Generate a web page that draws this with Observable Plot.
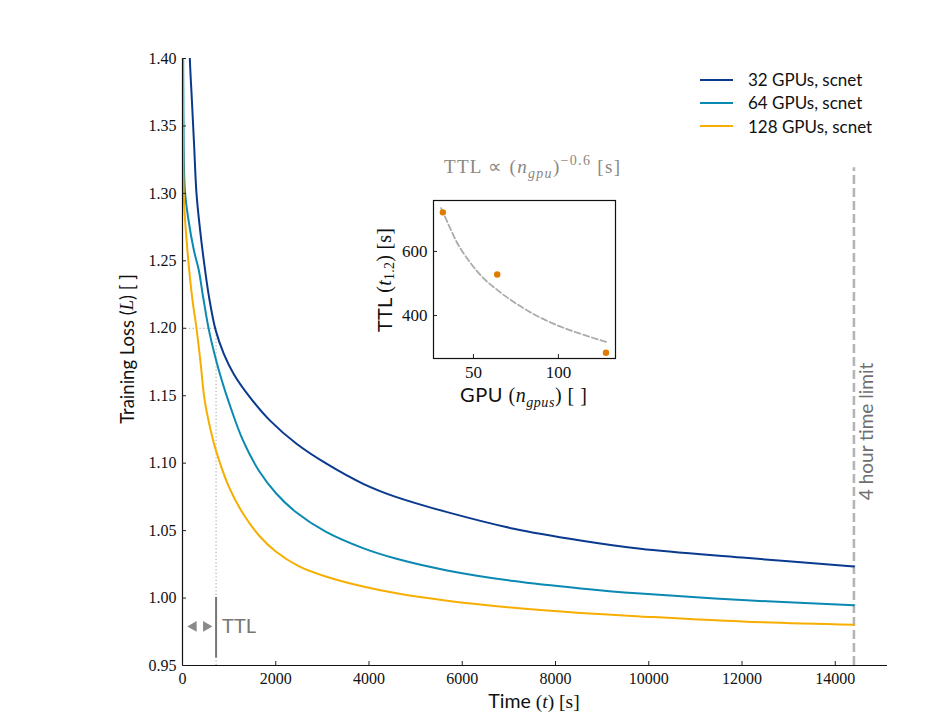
<!DOCTYPE html>
<html><head><meta charset="utf-8">
<script src="https://cdn.jsdelivr.net/npm/d3@7"></script>
<script src="https://cdn.jsdelivr.net/npm/@observablehq/plot@0.6"></script>
<style>
body{margin:0;background:#fff;}
#wrap{position:relative;width:943px;height:712px;overflow:hidden;background:#fff;}
#inset{position:absolute;left:360px;top:140px;}
#legend{position:absolute;left:700px;top:68px;font-family:Lato,sans-serif;font-size:17px;color:#111;}
#legend .row{display:flex;align-items:center;height:23.3px;}
#legend .sw{width:33px;height:2px;margin-right:15px;}
</style></head><body><div id="wrap"><div id="inset"></div><div id="legend"></div></div>
<script>
// ---- data ----
const seriesNames = ["32 GPUs, scnet", "64 GPUs, scnet", "128 GPUs, scnet"];
const seriesColors = ["#0a3a8e", "#0a89b2", "#f7ae00"];

const t32 = [0, 100, 157, 200, 250, 300, 380, 458, 565, 708, 886, 1101, 1444, 1873, 2445, 3088, 3875, 4590, 5676, 7106, 8536, 9822, 12000, 14400];
const L32 = [1.62, 1.47, 1.40, 1.37, 1.335, 1.300, 1.272, 1.250, 1.224, 1.199, 1.181, 1.166, 1.149, 1.1317, 1.1144, 1.0996, 1.0847, 1.0748, 1.0637, 1.0514, 1.0427, 1.0365, 1.0300, 1.0234];

const t64 = [0, 20, 50, 125, 243, 350, 443, 565, 708, 850, 1000, 1290, 1650, 2010, 2430, 3070, 3870, 4590, 5676, 7106, 8536, 9822, 12000, 14400];
const L64 = [1.55, 1.36, 1.303, 1.281, 1.258, 1.243, 1.223, 1.199, 1.178, 1.1605, 1.1445, 1.1174, 1.0938, 1.0775, 1.0638, 1.0492, 1.0370, 1.0291, 1.0205, 1.0126, 1.0071, 1.0033, 0.9985, 0.9947];

const t128 = [0, 10, 29, 100, 208, 300, 386, 470, 600, 730, 1000, 1300, 1650, 2000, 2500, 3088, 3875, 4590, 5676, 7106, 8536, 9822, 12000, 14400];
const L128 = [1.50, 1.37, 1.297, 1.260, 1.2225, 1.200, 1.175, 1.148, 1.125, 1.108, 1.082, 1.0625, 1.046, 1.0345, 1.0235, 1.0158, 1.0085, 1.0035, 0.9980, 0.9928, 0.9890, 0.9864, 0.9826, 0.9802];

const xTicks = [0, 2000, 4000, 6000, 8000, 10000, 12000, 14000];
const yTicks = [0.95, 1.00, 1.05, 1.10, 1.15, 1.20, 1.25, 1.30, 1.35, 1.40];
const timeLimit = 14400;
const ttlThreshold = 1.20;
const ttl32 = 720;

// inset
const gpuCounts = [32, 64, 128];
const ttlValues = [722, 528, 284];
const fitGpu = [31, 36, 40, 48, 56, 64, 80, 96, 112, 128];
const fitTtl = [735, 676, 631, 566, 516, 480, 421, 377, 345, 318];
const insetXTicks = [50, 100];
const insetYTicks = [400, 600];

// ---- build ----
const rows = [];
[[t32, L32], [t64, L64], [t128, L128]].forEach(([ts, ls], i) => {
  ts.forEach((t, j) => rows.push({series: seriesNames[i], t, L: ls[j]}));
});

const sans = "Lato, 'Noto Sans', sans-serif";
const serif = "'Liberation Serif', 'Times New Roman', Times, serif";

function serifTicks(svg) {
  d3.select(svg).selectAll('g[aria-label$="tick label"]')
    .attr("font-family", serif)
    .style("font-family", serif)
    .selectAll("text").style("font-family", serif);
}

const main = Plot.plot({
  width: 943, height: 712,
  marginLeft: 182, marginRight: 56, marginTop: 58, marginBottom: 47,
  style: {fontSize: "16px", color: "#222", background: "white", overflow: "visible"},
  x: {domain: [0, 15120]},
  y: {domain: [0.95, 1.40]},
  color: {domain: seriesNames, range: seriesColors},
  marks: [
    Plot.ruleY([ttlThreshold], {x1: 0, x2: ttl32, stroke: "#b8b8b8", strokeWidth: 1.3, strokeDasharray: "1.3,2.2"}),
    Plot.ruleX([ttl32], {y1: 0.95, y2: ttlThreshold, stroke: "#b8b8b8", strokeWidth: 1.3, strokeDasharray: "1.3,2.2"}),
    Plot.ruleX([ttl32], {y1: 0.9555, y2: 1.0005, stroke: "#777", strokeWidth: 2}),
    Plot.ruleX([timeLimit], {y1: 0.95, y2: 1.319, stroke: "#b4b4b4", strokeWidth: 2.6, strokeDasharray: "9,4"}),
    Plot.line(rows, {x: "t", y: "L", stroke: "series", z: "series", curve: "catmull-rom", strokeWidth: 2, clip: true}),
    Plot.dot([{t: 236, d: -90}, {t: 508, d: 90}], {x: "t", y: 0.979, symbol: "triangle", r: 4, fill: "#8a8a8a", rotate: "d"}),
    Plot.text(["TTL"], {x: ttl32, y: 0.979, dx: 6, text: d => d, textAnchor: "start", fill: "#777", fontSize: 20, fontFamily: sans}),
    Plot.text(["4 hour time limit"], {x: timeLimit, y: 1.1235, dx: 13, text: d => d, rotate: -90, textAnchor: "middle", lineAnchor: "middle", fill: "#6f6f6f", fontSize: 19, fontFamily: sans}),
    Plot.ruleX([0], {stroke: "#111", strokeWidth: 1.2}),
    Plot.ruleY([0.95], {stroke: "#111", strokeWidth: 1.2}),
    Plot.axisX({ticks: xTicks, tickSize: -4, tickPadding: 11, label: null, tickFormat: d => String(d), fontFamily: serif, fontSize: 16, fill: "#111"}),
    Plot.axisY({ticks: yTicks, tickSize: -4, tickPadding: 10, label: null, tickFormat: d3.format(".2f"), fontFamily: serif, fontSize: 16, fill: "#111"})
  ]
});
serifTicks(main);

const wrap = document.getElementById("wrap");
wrap.insertBefore(main, wrap.firstChild);

function rich(parent, parts, attrs) {
  const t = d3.select(parent).append("text");
  Object.entries(attrs).forEach(([k, v]) => t.attr(k, v));
  let shift = 0;
  parts.forEach(p => {
    const s = t.append("tspan").text(p.t).style("font-family", p.f === "serif" ? serif : sans);
    if (p.i) s.attr("font-style", "italic");
    if (p.size) s.attr("font-size", p.size);
    const want = p.sub ? 5 : p.sup ? -8 : 0;
    if (want !== shift) { s.attr("dy", want - shift); shift = want; }
  });
  return t;
}

// main axis labels
rich(main, [
  {t: "Training Loss (", f: "sans"}, {t: "L", f: "serif", i: true}, {t: ") [ ]", f: "sans"}
], {transform: "translate(127,349) rotate(-90)", "text-anchor": "middle", "dominant-baseline": "central", "font-size": 18.5, fill: "#111"});
rich(main, [
  {t: "Time ", f: "sans"}, {t: "(", f: "serif"}, {t: "t", f: "serif", i: true}, {t: ") [s]", f: "serif"}
], {x: 534, y: 708, "text-anchor": "middle", "font-size": 19.5, fill: "#111"});

// ---- inset ----
const inset = Plot.plot({
  width: 270, height: 280,
  marginLeft: 73, marginRight: 15, marginTop: 60, marginBottom: 62,
  style: {fontSize: "16px", color: "#222", background: "transparent", overflow: "visible"},
  x: {domain: [26.5, 133.6]},
  y: {domain: [266, 759]},
  marks: [
    Plot.line(fitGpu.map((g, i) => ({g, v: fitTtl[i]})), {x: "g", y: "v", stroke: "#ababab", strokeWidth: 1.8, strokeDasharray: "6,3", curve: "monotone-x"}),
    Plot.dot(gpuCounts.map((g, i) => ({g, v: ttlValues[i]})), {x: "g", y: "v", r: 3.2, fill: "#e07b00"}),
    Plot.frame({stroke: "#111", strokeWidth: 1.2}),
    Plot.axisX({ticks: insetXTicks, tickSize: -4, tickPadding: 11, label: null, fontFamily: serif, fontSize: 17, fill: "#111"}),
    Plot.axisY({ticks: insetYTicks, tickSize: -4, tickPadding: 10, label: null, fontFamily: serif, fontSize: 17, fill: "#111"})
  ]
});
serifTicks(inset);
document.getElementById("inset").appendChild(inset);

rich(inset, [
  {t: "TTL ∝ (", f: "serif"}, {t: "n", f: "serif", i: true}, {t: "gpu", f: "serif", i: true, sub: true, size: 14},
  {t: ")", f: "serif"}, {t: "−0.6", f: "serif", sup: true, size: 14}, {t: " [s]", f: "serif"}
], {x: 172, y: 33, "text-anchor": "middle", "font-size": 19, fill: "#8c8782", textLength: 176, lengthAdjust: "spacing"});
rich(inset, [
  {t: "GPU ", f: "sans"}, {t: "(", f: "serif"}, {t: "n", f: "serif", i: true}, {t: "gpus", f: "serif", i: true, sub: true, size: 14},
  {t: ") [ ]", f: "serif"}
], {x: 163.5, y: 262, "text-anchor": "middle", "font-size": 20, fill: "#111", textLength: 127, lengthAdjust: "spacing"});
rich(inset, [
  {t: "TTL ", f: "sans"}, {t: "(", f: "serif"}, {t: "t", f: "serif", i: true}, {t: "1.2", f: "serif", sub: true, size: 14},
  {t: ") [s]", f: "serif"}
], {transform: "translate(24,140) rotate(-90)", "text-anchor": "middle", "dominant-baseline": "central", "font-size": 20, fill: "#111", textLength: 104, lengthAdjust: "spacing"});

// ---- legend ----
const leg = d3.select("#legend");
seriesNames.forEach((n, i) => {
  const r = leg.append("div").attr("class", "row");
  r.append("div").attr("class", "sw").style("background", seriesColors[i]);
  r.append("span").text(n);
});
</script></body></html>
